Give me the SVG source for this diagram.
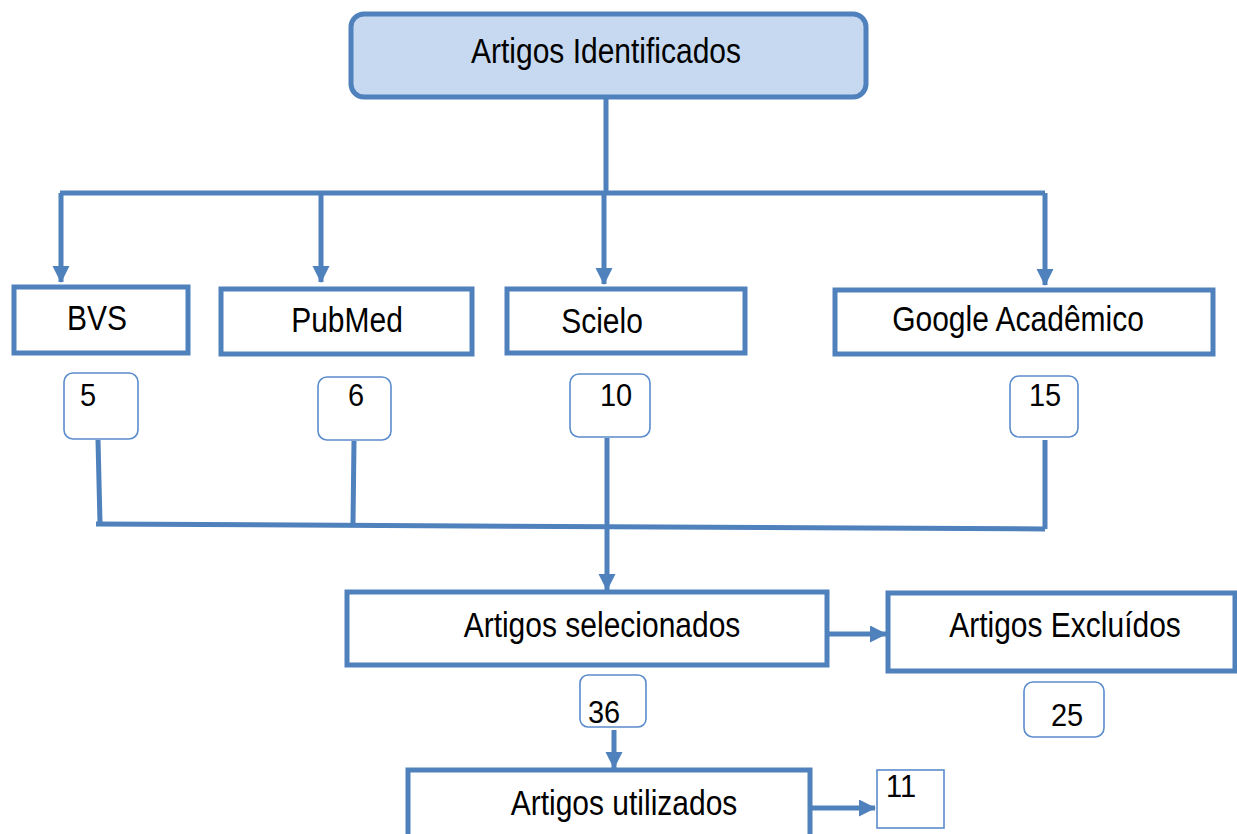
<svg xmlns="http://www.w3.org/2000/svg" width="1237" height="834" viewBox="0 0 1237 834">
<style>
.box{fill:#fff;stroke:#4f81bd;stroke-width:5}
.nbox{fill:#fff;stroke:#5b8ccc;stroke-width:1.6}
.lbl{font-family:"Liberation Sans",Arial,sans-serif;font-size:30px;fill:#000}
.num{font-family:"Liberation Sans",Arial,sans-serif;font-size:29px;fill:#000}
.ln{fill:none;stroke:#4f81bd;stroke-width:5}
</style>
<defs>
<marker id="ah" markerUnits="userSpaceOnUse" markerWidth="18" markerHeight="18" refX="16" refY="8.5" orient="auto">
<path d="M0,0 L17,8.5 L0,17 Z" fill="#4f81bd"/>
</marker>
</defs>
<g id="connectors">
<path class="ln" d="M606,97 V193"/>
<path class="ln" d="M60,193 H1045"/>
<path class="ln" d="M61,193 V282" marker-end="url(#ah)"/>
<path class="ln" d="M321,193 V282" marker-end="url(#ah)"/>
<path class="ln" d="M604,193 V284" marker-end="url(#ah)"/>
<path class="ln" d="M1045,193 V285" marker-end="url(#ah)"/>
<path class="ln" d="M98,440 L100,523"/>
<path class="ln" d="M354,441 L353,523"/>
<path class="ln" d="M1045,440 V529"/>
<path class="ln" d="M96,524 L1045,529"/>
<path class="ln" d="M607,438 V590" marker-end="url(#ah)"/>
<path class="ln" d="M828,634 H886" marker-end="url(#ah)"/>
<path class="ln" d="M614,730 V768" marker-end="url(#ah)"/>
<path class="ln" d="M811,808 H875" marker-end="url(#ah)"/>
</g>
<g id="n-identificados">
<rect x="351" y="14" width="515" height="83" rx="13" fill="#c6d9f0" stroke="#4f81bd" stroke-width="5"/>
<text class="lbl" transform="translate(606,63) scale(1,1.14)" text-anchor="middle">Artigos Identificados</text>
</g>
<g id="n-bvs">
<rect class="box" x="14" y="287" width="174" height="66"/>
<text class="lbl" transform="translate(97,330) scale(1,1.14)" text-anchor="middle">BVS</text>
</g>
<g id="n-pubmed">
<rect class="box" x="221" y="289" width="251" height="65"/>
<text class="lbl" transform="translate(347,332) scale(1,1.14)" text-anchor="middle">PubMed</text>
</g>
<g id="n-scielo">
<rect class="box" x="507" y="289" width="238" height="64"/>
<text class="lbl" transform="translate(602,333) scale(1,1.14)" text-anchor="middle">Scielo</text>
</g>
<g id="n-google">
<rect class="box" x="835" y="290" width="378" height="64"/>
<text class="lbl" transform="translate(1018,331) scale(1,1.14)" text-anchor="middle">Google Acadêmico</text>
</g>
<g id="n-5">
<rect class="nbox" x="64" y="373" width="74" height="66" rx="9"/>
<text class="num" transform="translate(80,406) scale(1,1.1)">5</text>
</g>
<g id="n-6">
<rect class="nbox" x="318" y="377" width="73" height="63" rx="9"/>
<text class="num" transform="translate(348,406) scale(1,1.1)">6</text>
</g>
<g id="n-10">
<rect class="nbox" x="570" y="374" width="80" height="63" rx="9"/>
<text class="num" transform="translate(600,406) scale(1,1.1)">10</text>
</g>
<g id="n-15">
<rect class="nbox" x="1010" y="376" width="68" height="61" rx="9"/>
<text class="num" transform="translate(1029,406) scale(1,1.1)">15</text>
</g>
<g id="n-selecionados">
<rect class="box" x="347" y="592" width="480" height="73"/>
<text class="lbl" transform="translate(602,637) scale(1,1.14)" text-anchor="middle">Artigos selecionados</text>
</g>
<g id="n-excluidos">
<rect class="box" x="888" y="593" width="347" height="78"/>
<text class="lbl" transform="translate(1065,637) scale(1,1.14)" text-anchor="middle">Artigos Excluídos</text>
</g>
<g id="n-36">
<rect class="nbox" x="580" y="675" width="66" height="52" rx="8"/>
<text class="num" transform="translate(588,723) scale(1,1.1)">36</text>
</g>
<g id="n-25">
<rect class="nbox" x="1024" y="682" width="80" height="55" rx="9"/>
<text class="num" transform="translate(1051,726) scale(1,1.1)">25</text>
</g>
<g id="n-utilizados">
<rect class="box" x="408" y="770" width="402" height="72"/>
<text class="lbl" transform="translate(624,815) scale(1,1.14)" text-anchor="middle">Artigos utilizados</text>
</g>
<g id="n-11">
<rect class="nbox" x="877" y="770" width="67" height="58"/>
<text class="num" transform="translate(886,797) scale(1,1.1)">11</text>
</g>
</svg>
